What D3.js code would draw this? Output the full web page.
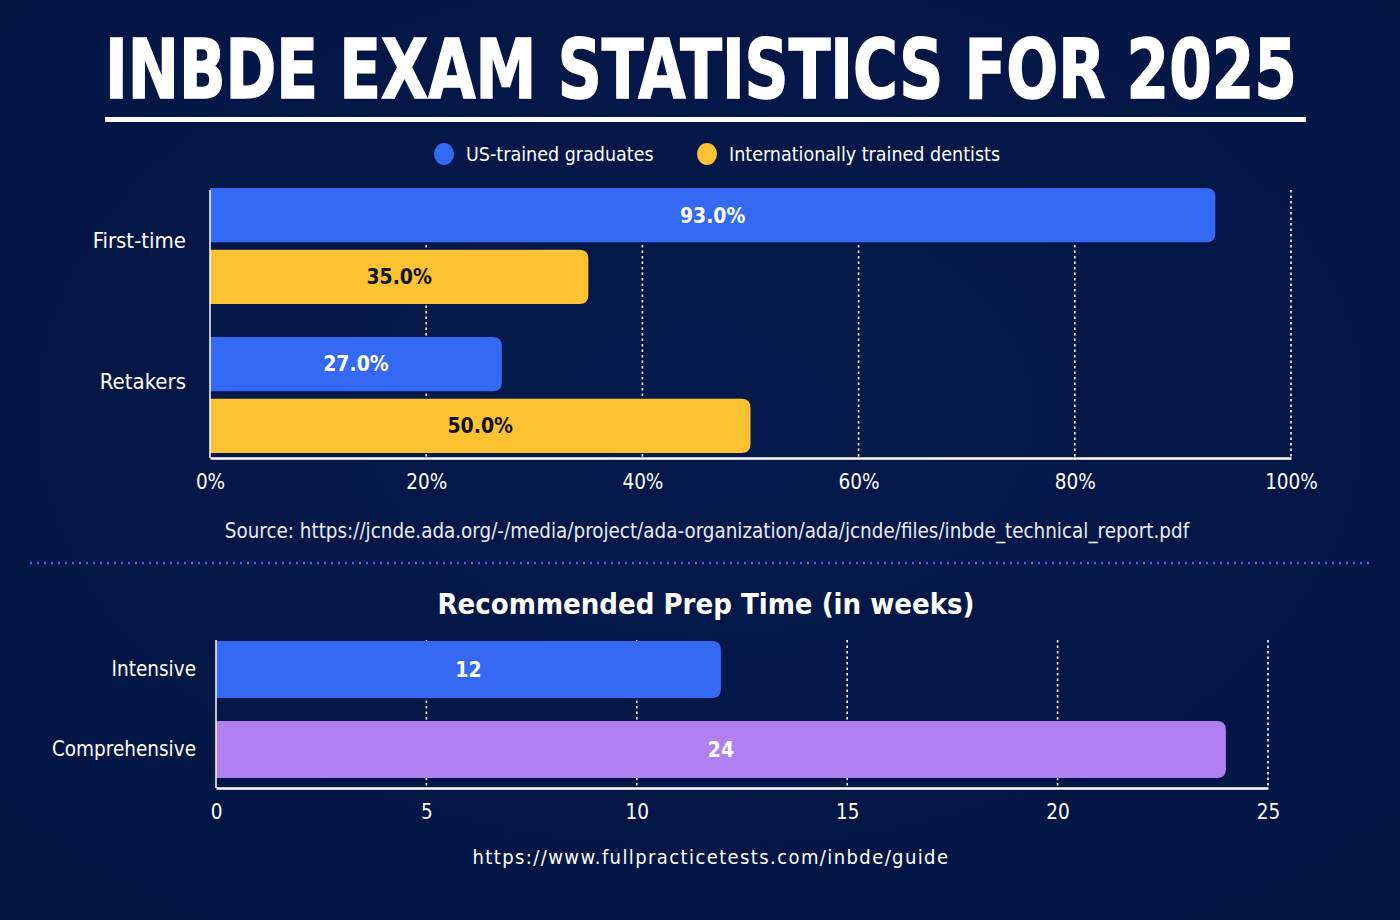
<!DOCTYPE html>
<html>
<head>
<meta charset="utf-8">
<script src="https://cdn.jsdelivr.net/npm/d3@7"></script>
<style>
  html, body { margin: 0; padding: 0; background: #03174a; }
  svg { display: block; }
</style>
</head>
<body>
<svg id="chart" width="1400" height="920"></svg>
<script>
// data
const groups = ['First-time', 'Retakers'];
const seriesNames = ['US-trained graduates', 'Internationally trained dentists'];
const usTrained = [93, 27];
const international = [35, 50];
const passTicks = [0, 20, 40, 60, 80, 100];

const prepCategories = ['Intensive', 'Comprehensive'];
const prepWeeks = [12, 24];
const prepTicks = [0, 5, 10, 15, 20, 25];

const BLUE = '#3369f3';
const YELLOW = '#fdc231';
const PURPLE = '#b07ff2';
const FONT = '"DejaVu Sans Condensed", "Liberation Sans Narrow", "Roboto", sans-serif';

const svg = d3.select('#chart');

// background with a faint glow
const defs = svg.append('defs');
const bg = defs.append('radialGradient').attr('id', 'bg')
  .attr('cx', '50%').attr('cy', '45%').attr('r', '75%');
bg.append('stop').attr('offset', '0%').attr('stop-color', '#06194c');
bg.append('stop').attr('offset', '100%').attr('stop-color', '#021543');
svg.append('rect').attr('width', 1400).attr('height', 920).attr('fill', 'url(#bg)');

// title: measure, then stretch horizontally to span the underline
const titleG = svg.append('g');
const title = titleG.append('text')
  .attr('x', 0).attr('y', 0)
  .style('font-family', FONT).style('font-weight', 'bold').style('font-size', '82px')
  .attr('fill', '#ffffff').attr('stroke', '#ffffff').attr('stroke-width', 1.5)
  .text('INBDE EXAM STATISTICS FOR 2025');
const tw = title.node().getBBox().width;
titleG.attr('transform', `translate(105,98) scale(${1192 / tw},1)`);
svg.append('rect').attr('x', 105).attr('y', 117).attr('width', 1201).attr('height', 5).attr('fill', '#ffffff');

// legend
const legendItems = [
  { name: seriesNames[0], color: BLUE, x: 444 },
  { name: seriesNames[1], color: YELLOW, x: 707 }
];
legendItems.forEach(it => {
  svg.append('ellipse').attr('cx', it.x).attr('cy', 154).attr('rx', 10).attr('ry', 11).attr('fill', it.color);
  svg.append('text').attr('x', it.x + 22).attr('y', 161)
    .style('font-family', FONT).style('font-size', '19.5px').attr('fill', '#ffffff')
    .text(it.name);
});

// bar with square left edge and rounded right corners
function barPath(x0, x1, y, h, r) {
  r = Math.min(r, (x1 - x0) / 2, h / 2);
  return `M${x0},${y}H${x1 - r}Q${x1},${y} ${x1},${y + r}V${y + h - r}Q${x1},${y + h} ${x1 - r},${y + h}H${x0}Z`;
}

function grid(g, x, ticks, y0, y1) {
  g.selectAll('line.grid').data(ticks.filter(t => t > 0)).enter().append('line')
    .attr('class', 'grid')
    .attr('x1', d => x(d)).attr('x2', d => x(d))
    .attr('y1', y0).attr('y2', y1)
    .attr('stroke', '#ffffff').attr('stroke-width', 1.6)
    .attr('stroke-dasharray', '2.5,3');
}

// ---- chart 1: pass rates ----
const x1 = d3.scaleLinear().domain([0, 100]).range([210, 1291]);
const y1 = d3.scaleBand().domain(groups).range([188, 453]).paddingInner(0.22);
const sub1 = d3.scaleBand().domain([0, 1]).range([0, y1.bandwidth()]).paddingInner(0.12);

const g1 = svg.append('g');
grid(g1, x1, passTicks, 190, 458);

const rows1 = [];
groups.forEach((gName, i) => {
  rows1.push({ group: gName, s: 0, value: usTrained[i], color: BLUE, text: '#ffffff' });
  rows1.push({ group: gName, s: 1, value: international[i], color: YELLOW, text: '#111111' });
});

g1.selectAll('path.bar').data(rows1).enter().append('path')
  .attr('class', 'bar')
  .attr('d', d => barPath(x1(0), x1(d.value), y1(d.group) + sub1(d.s), sub1.bandwidth(), 9))
  .attr('fill', d => d.color);

g1.selectAll('text.val').data(rows1).enter().append('text')
  .attr('class', 'val')
  .attr('x', d => (x1(0) + x1(d.value)) / 2)
  .attr('y', d => y1(d.group) + sub1(d.s) + sub1.bandwidth() / 2)
  .attr('dy', '0.35em').attr('text-anchor', 'middle')
  .style('font-family', FONT).style('font-weight', 'bold').style('font-size', '21px')
  .attr('fill', d => d.text)
  .text(d => d.value.toFixed(1) + '%');

const ax1 = g1.append('g').attr('transform', 'translate(0,458)')
  .call(d3.axisBottom(x1).tickValues(passTicks).tickSize(0).tickPadding(16).tickFormat(d => d + '%'));
ax1.select('.domain').attr('stroke', '#ffffff').attr('stroke-width', 2.5);
ax1.selectAll('text').style('font-family', FONT).style('font-size', '20.5px').attr('fill', '#ffffff');

const ay1 = g1.append('g').attr('transform', 'translate(210,0)')
  .call(d3.axisLeft(y1).tickSize(0).tickPadding(24));
ay1.select('.domain').attr('d', 'M0,190V458').attr('stroke', '#ffffff').attr('stroke-width', 1.5);
ay1.selectAll('text').style('font-family', FONT).style('font-size', '22px').attr('fill', '#ffffff')
  .attr('dy', (d, i) => i === 0 ? '0.1em' : '-0.25em');

svg.append('text').attr('x', 707).attr('y', 538).attr('text-anchor', 'middle')
  .style('font-family', FONT).style('font-size', '20.4px').attr('fill', '#e8ebf2')
  .text('Source: https://jcnde.ada.org/-/media/project/ada-organization/ada/jcnde/files/inbde_technical_report.pdf');

// separator
svg.append('line').attr('x1', 30).attr('x2', 1370).attr('y1', 563).attr('y2', 563)
  .attr('stroke', '#2f6df5').attr('stroke-width', 2.5).attr('stroke-dasharray', '2,5');

// ---- chart 2: prep time ----
svg.append('text').attr('x', 706).attr('y', 614).attr('text-anchor', 'middle')
  .style('font-family', FONT).style('font-weight', 'bold').style('font-size', '29px').attr('fill', '#ffffff')
  .text('Recommended Prep Time (in weeks)');

const x2 = d3.scaleLinear().domain([0, 25]).range([216, 1268]);
const y2 = d3.scaleBand().domain(prepCategories).range([641, 778]).paddingInner(0.29);
const g2 = svg.append('g');
grid(g2, x2, prepTicks, 640, 788);

const rows2 = prepCategories.map((c, i) => ({ cat: c, value: prepWeeks[i], color: i === 0 ? BLUE : PURPLE }));
g2.selectAll('path.bar').data(rows2).enter().append('path')
  .attr('class', 'bar')
  .attr('d', d => barPath(x2(0), x2(d.value), y2(d.cat), y2.bandwidth(), 9))
  .attr('fill', d => d.color);
g2.selectAll('text.val').data(rows2).enter().append('text')
  .attr('class', 'val')
  .attr('x', d => (x2(0) + x2(d.value)) / 2)
  .attr('y', d => y2(d.cat) + y2.bandwidth() / 2)
  .attr('dy', '0.35em').attr('text-anchor', 'middle')
  .style('font-family', FONT).style('font-weight', 'bold').style('font-size', '21px')
  .attr('fill', '#ffffff')
  .text(d => d.value);

const ax2 = g2.append('g').attr('transform', 'translate(0,788)')
  .call(d3.axisBottom(x2).tickValues(prepTicks).tickSize(0).tickPadding(16));
ax2.select('.domain').attr('stroke', '#ffffff').attr('stroke-width', 2.5);
ax2.selectAll('text').style('font-family', FONT).style('font-size', '20.5px').attr('fill', '#ffffff');

const ay2 = g2.append('g').attr('transform', 'translate(216,0)')
  .call(d3.axisLeft(y2).tickSize(0).tickPadding(20));
ay2.select('.domain').attr('d', 'M0,640V788').attr('stroke', '#ffffff').attr('stroke-width', 1.5);
ay2.selectAll('text').style('font-family', FONT).style('font-size', '20.5px').attr('fill', '#ffffff');

svg.append('text').attr('x', 711).attr('y', 864).attr('text-anchor', 'middle')
  .style('font-family', FONT).style('font-size', '20px').style('letter-spacing', '1.4px').attr('fill', '#ffffff')
  .text('https://www.fullpracticetests.com/inbde/guide');
</script>
</body>
</html>
